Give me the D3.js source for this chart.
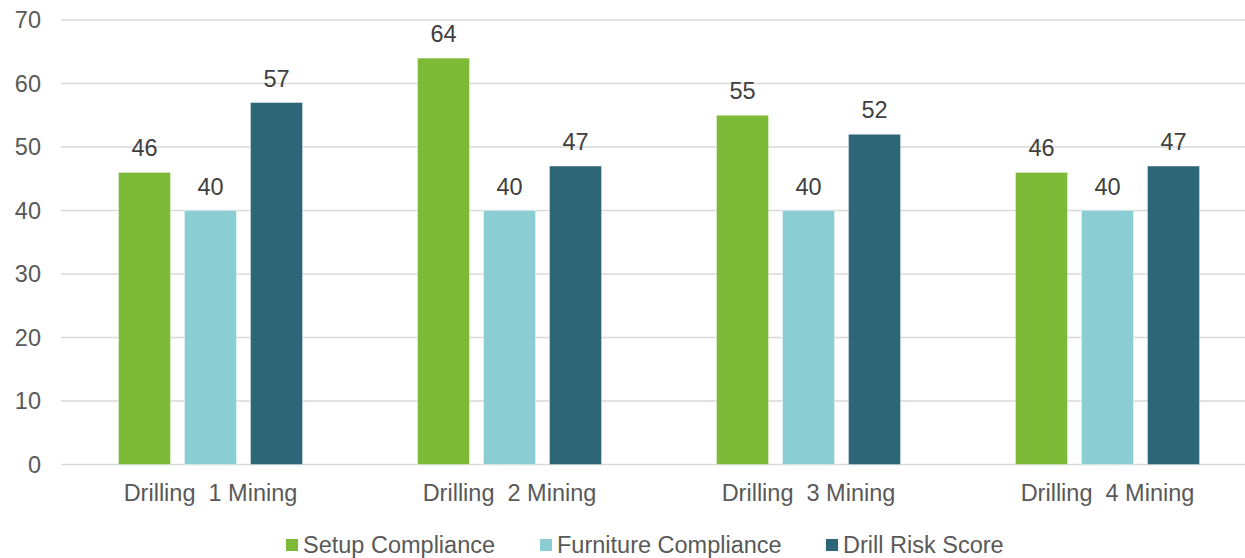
<!DOCTYPE html>
<html>
<head>
<meta charset="utf-8">
<script src="https://cdn.jsdelivr.net/npm/d3@7"></script>
<style>
  html, body { margin: 0; padding: 0; background: #fff; }
  svg { display: block; font-family: "Liberation Sans", Arial, sans-serif; }
</style>
</head>
<body>
<svg id="chart" width="1245" height="558"></svg>
<script>
// Sites and the three scores recorded for each
const categories = ["Drilling  1 Mining", "Drilling  2 Mining", "Drilling  3 Mining", "Drilling  4 Mining"];
const seriesNames = ["Setup Compliance", "Furniture Compliance", "Drill Risk Score"];
const setupCompliance = [46, 64, 55, 46];
const furnitureCompliance = [40, 40, 40, 40];
const drillRiskScore = [57, 47, 52, 47];
const yTicks = [0, 10, 20, 30, 40, 50, 60, 70];
const colors = ["#7DBA37", "#8ACDD2", "#2C6677"];

const seriesValues = [setupCompliance, furnitureCompliance, drillRiskScore];
const FS = 23.5;

const svg = d3.select("#chart");
const plot = { left: 61, right: 1257, top: 20, bottom: 464.5 };

const y = d3.scaleLinear().domain([0, 70]).range([plot.bottom, plot.top]);
const x0 = d3.scaleBand().domain(categories).range([plot.left, plot.right]).padding(0);
const x1 = d3.scaleBand().domain(seriesNames)
  .range([57.5, 57.5 + 184]).paddingInner(0.2121).paddingOuter(0);

// Horizontal gridlines
svg.append("g").selectAll("line").data(yTicks).join("line")
  .attr("x1", plot.left).attr("x2", 1245)
  .attr("y1", d => y(d)).attr("y2", d => y(d))
  .attr("stroke", "#D9D9D9").attr("stroke-width", 1.5);

// Y axis labels
svg.append("g").selectAll("text").data(yTicks).join("text")
  .attr("x", 41).attr("y", d => y(d) + 8)
  .attr("text-anchor", "end")
  .attr("font-size", FS).attr("fill", "#595959")
  .text(d => d);

// Bars grouped by site
const groups = svg.append("g").selectAll("g").data(categories).join("g")
  .attr("transform", d => `translate(${x0(d)},0)`);

groups.selectAll("rect")
  .data((c, ci) => seriesNames.map((s, si) => ({ s, si, v: seriesValues[si][ci] })))
  .join("rect")
  .attr("x", d => x1(d.s))
  .attr("width", x1.bandwidth())
  .attr("y", d => y(d.v))
  .attr("height", d => y(0) - y(d.v))
  .attr("fill", d => colors[d.si])
  .attr("stroke", "rgba(255,255,255,0.45)").attr("stroke-width", 0.8);

// Value labels above bars
groups.selectAll("text.val")
  .data((c, ci) => seriesNames.map((s, si) => ({ s, si, v: seriesValues[si][ci] })))
  .join("text").attr("class", "val")
  .attr("x", d => x1(d.s) + x1.bandwidth() / 2)
  .attr("y", d => y(d.v) - 16)
  .attr("text-anchor", "middle")
  .attr("font-size", FS).attr("fill", "#404040")
  .text(d => d.v);

// Category labels
svg.append("g").selectAll("text").data(categories).join("text")
  .attr("x", d => x0(d) + 57.5 + 92)
  .attr("y", 501)
  .attr("text-anchor", "middle")
  .attr("font-size", FS).attr("fill", "#595959")
  .style("white-space", "pre")
  .attr("xml:space", "preserve")
  .text(d => d);

// Legend
const legendX = [286, 540, 826];
const legend = svg.append("g").selectAll("g").data(seriesNames).join("g")
  .attr("transform", (d, i) => `translate(${legendX[i]},539)`);
legend.append("rect").attr("width", 12).attr("height", 12)
  .attr("fill", (d, i) => colors[i]);
legend.append("text").attr("x", 17).attr("y", 14)
  .attr("font-size", FS).attr("fill", "#595959")
  .text(d => d);
</script>
</body>
</html>
